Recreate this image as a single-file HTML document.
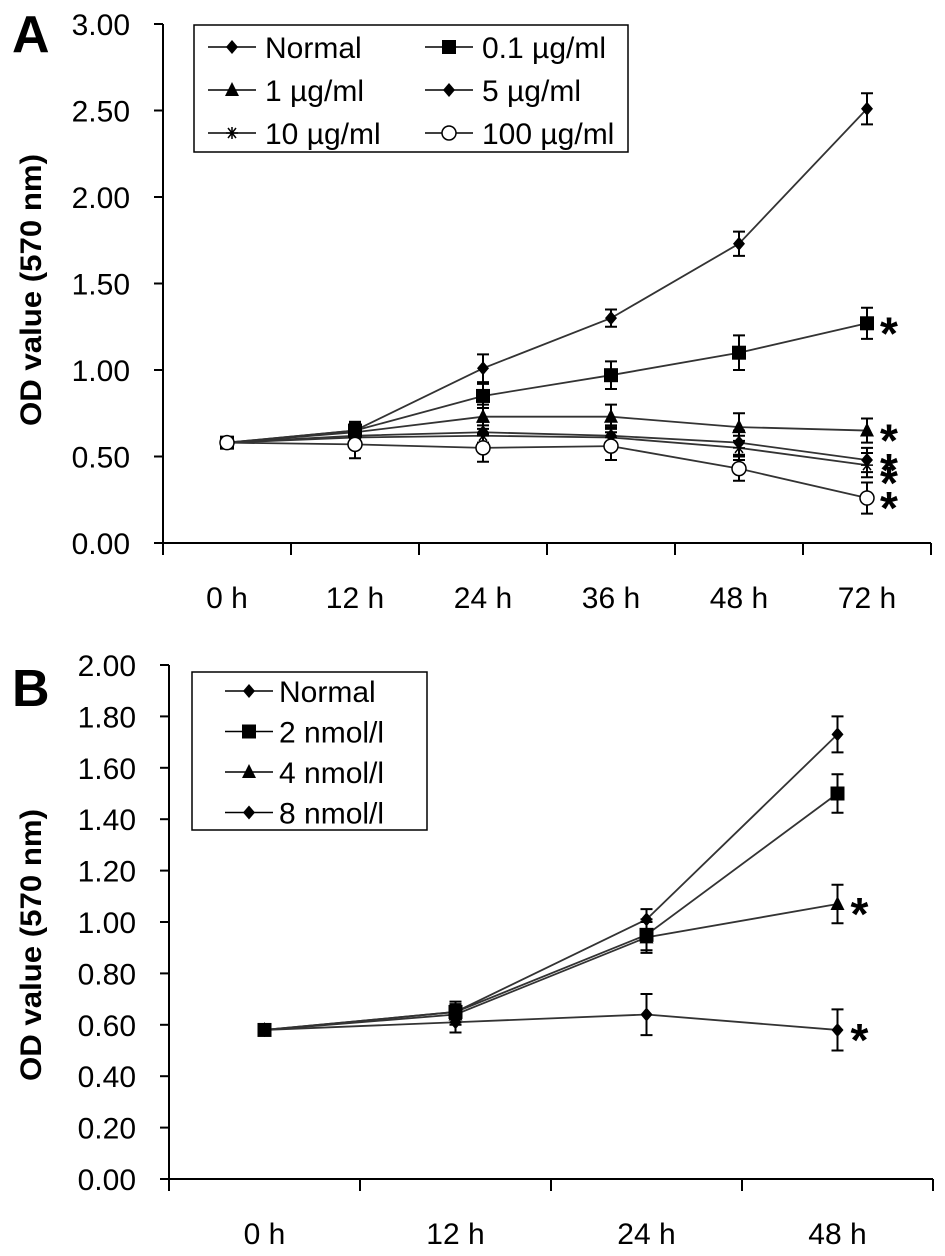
<!DOCTYPE html>
<html><head><meta charset="utf-8"><style>
body{margin:0;background:#fff}
svg{display:block;font-family:"Liberation Sans",Arial,sans-serif}
</style></head><body>
<svg id="fig" width="945" height="1256" viewBox="0 0 945 1256"></svg>
<script>
const catsA=["0 h","12 h","24 h","36 h","48 h","72 h"];
const namesA=["Normal","0.1 µg/ml","1 µg/ml","5 µg/ml","10 µg/ml","100 µg/ml"];
const markersA=["diamond","square","triangle","diamond","star","circle"];
const normalA=[0.58,0.65,1.01,1.30,1.73,2.51];
const s01A=[0.58,0.65,0.85,0.97,1.10,1.27];
const s1A=[0.58,0.64,0.73,0.73,0.67,0.65];
const s5A=[0.58,0.62,0.64,0.62,0.58,0.48];
const s10A=[0.58,0.61,0.62,0.61,0.55,0.45];
const s100A=[0.58,0.57,0.55,0.56,0.43,0.26];
const errA=[0.02,0.05,0.08,0.05,0.07,0.09];
const sigA=[false,true,true,true,true,true];
const yTicksA=["0.00","0.50","1.00","1.50","2.00","2.50","3.00"];

const catsB=["0 h","12 h","24 h","48 h"];
const namesB=["Normal","2 nmol/l","4 nmol/l","8 nmol/l"];
const markersB=["diamond","square","triangle","diamond"];
const normalB=[0.58,0.65,1.01,1.73];
const s2B=[0.58,0.65,0.95,1.50];
const s4B=[0.58,0.64,0.94,1.07];
const s8B=[0.58,0.61,0.64,0.58];
const errB=[0.01,0.04,0.06,0.075];
const err8B=[0.01,0.04,0.08,0.08];
const sigB=[false,false,true,true];
const yTicksB=["0.00","0.20","0.40","0.60","0.80","1.00","1.20","1.40","1.60","1.80","2.00"];

const NS="http://www.w3.org/2000/svg";
const svg=document.getElementById('fig');
function mk(tag,attrs,parent){const e=document.createElementNS(NS,tag);for(const k in attrs)e.setAttribute(k,attrs[k]);(parent||svg).appendChild(e);return e;}

function marker(g,type,x,y){
  let e;
  if(type==="diamond")e=mk('polygon',{points:`${x},${y-7} ${x+6},${y} ${x},${y+7} ${x-6},${y}`,fill:'#000'},g);
  else if(type==="square")e=mk('rect',{x:x-7,y:y-7,width:14,height:14,fill:'#000'},g);
  else if(type==="triangle")e=mk('polygon',{points:`${x},${y-8} ${x+7},${y+6} ${x-7},${y+6}`,fill:'#000'},g);
  else if(type==="circle")e=mk('circle',{cx:x,cy:y,r:7,fill:'#fff',stroke:'#000','stroke-width':1.5},g);
  else {e=mk('path',{d:`M${x-6} ${y}H${x+6}M${x-4} ${y-5}L${x+4} ${y+5}M${x+4} ${y-5}L${x-4} ${y+5}M${x} ${y-6}V${y+6}`,stroke:'#000','stroke-width':1.5},g);}
  
  
}

function panel(o){
  const g=mk('g',{});
  
  
  const yv=v=>o.y0-(v/o.ymax)*(o.y0-o.y1);
  const xv=i=>o.x0+o.band*(i+0.5);
  const x1=o.x0+o.band*o.cats.length;
  const ya=mk('line',{x1:o.x0,y1:o.y1,x2:o.x0,y2:o.y0,stroke:'#000','stroke-width':2},g);
  
  const xa=mk('line',{x1:o.x0,y1:o.y0,x2:x1,y2:o.y0,stroke:'#000','stroke-width':2},g);
  
  o.yticks.forEach(t=>{const y=yv(parseFloat(t));
    mk('line',{x1:o.x0-9,y1:y,x2:o.x0,y2:y,stroke:'#000','stroke-width':2},g);
    const tx=mk('text',{x:o.x0-33,y:y+11,'text-anchor':'end','font-size':30},g);tx.textContent=t;
    });
  for(let i=0;i<=o.cats.length;i++){const x=o.x0+o.band*i;mk('line',{x1:x,y1:o.y0,x2:x,y2:o.y0+12,stroke:'#000','stroke-width':2},g);}
  o.cats.forEach((c,i)=>{const t=mk('text',{x:xv(i),y:o.y0+65,'text-anchor':'middle','font-size':30},g);t.textContent=c;
    });
  const yt=mk('text',{transform:`translate(${o.tx},${o.tcy}) rotate(-90)`,'text-anchor':'middle','font-size':30,'font-weight':'bold',textLength:272,lengthAdjust:'spacingAndGlyphs'},g);
  yt.textContent="OD value (570 nm)";
  const pl=mk('text',{x:12,y:o.letterY,'font-size':52,'font-weight':'bold'},g);pl.textContent=o.letter;
  
  o.series.forEach((s,si)=>{
    const sg=mk('g',{},g);
    
    
    mk('polyline',{points:s.map((v,i)=>xv(i)+','+yv(v)).join(' '),fill:'none',stroke:'#333','stroke-width':1.8},sg);
    s.forEach((v,i)=>{const e=o.errs[si][i];const x=xv(i);
      if(e>0.015){mk('path',{d:`M${x} ${yv(v+e)}V${yv(v-e)}M${x-6} ${yv(v+e)}H${x+6}M${x-6} ${yv(v-e)}H${x+6}`,stroke:'#000','stroke-width':2,fill:'none'},sg);}
    });
  });
  o.series.forEach((s,si)=>{s.forEach((v,i)=>marker(g,o.markers[si],xv(i),yv(v)));});
  o.series.forEach((s,si)=>{if(o.sig[si]){const n=s.length-1;
    const st=mk('text',{x:xv(n)+13,y:yv(s[n])+(o.starDy?o.starDy[si]:0)+26,'font-size':46,'font-weight':'bold'},g);st.textContent="*";
    }});
  const lg=mk('g',{},g);
  mk('rect',{x:o.lx,y:o.ly,width:o.lw,height:o.lh,fill:'#fff',stroke:'#000','stroke-width':1.5},lg);
  o.names.forEach((n,i)=>{const col=i%o.lcols,row=Math.floor(i/o.lcols);
    const bx=o.lsx+col*o.lcolw,by=o.ly+o.lrow0+row*o.lrowh;
    const eg=mk('g',{},lg);
    mk('line',{x1:bx,y1:by,x2:bx+48,y2:by,stroke:'#000','stroke-width':1.6},eg);
    marker(eg,o.markers[i],bx+24,by);
    const t=mk('text',{x:bx+o.ltx,y:by+11,'font-size':30},eg);t.textContent=n;});
}

panel({id:'panel-a',letter:'A',letterY:52,cats:catsA,names:namesA,markers:markersA,
  series:[normalA,s01A,s1A,s5A,s10A,s100A],errs:[errA,[0.02,0.05,0.07,0.08,0.1,0.09],[0.02,0.05,0.07,0.07,0.08,0.07],[0.02,0.05,0.06,0.06,0.07,0.07],[0.02,0.05,0.06,0.06,0.07,0.07],[0.02,0.08,0.08,0.08,0.07,0.09]],
  sig:sigA,starDy:[0,0,0,0,8,0],yticks:yTicksA,ymax:3,x0:163,band:128,y0:543,y1:24,tx:41,tcy:290,
  lx:194,ly:25,lw:434,lh:127,lsx:208,lcols:2,lcolw:217,ltx:57,lrow0:22,lrowh:43});
panel({id:'panel-b',letter:'B',letterY:706,cats:catsB,names:namesB,markers:markersB,
  series:[normalB,s2B,s4B,s8B],errs:[[0.01,0.03,0.04,0.07],errB,errB,err8B],
  sig:sigB,yticks:yTicksB,ymax:2,x0:169,band:191,y0:1179,y1:665,tx:41,tcy:945,
  lx:192,ly:672,lw:235,lh:158,lsx:225,lcols:1,lcolw:0,ltx:54,lrow0:19,lrowh:40.5});
</script>
</body></html>
